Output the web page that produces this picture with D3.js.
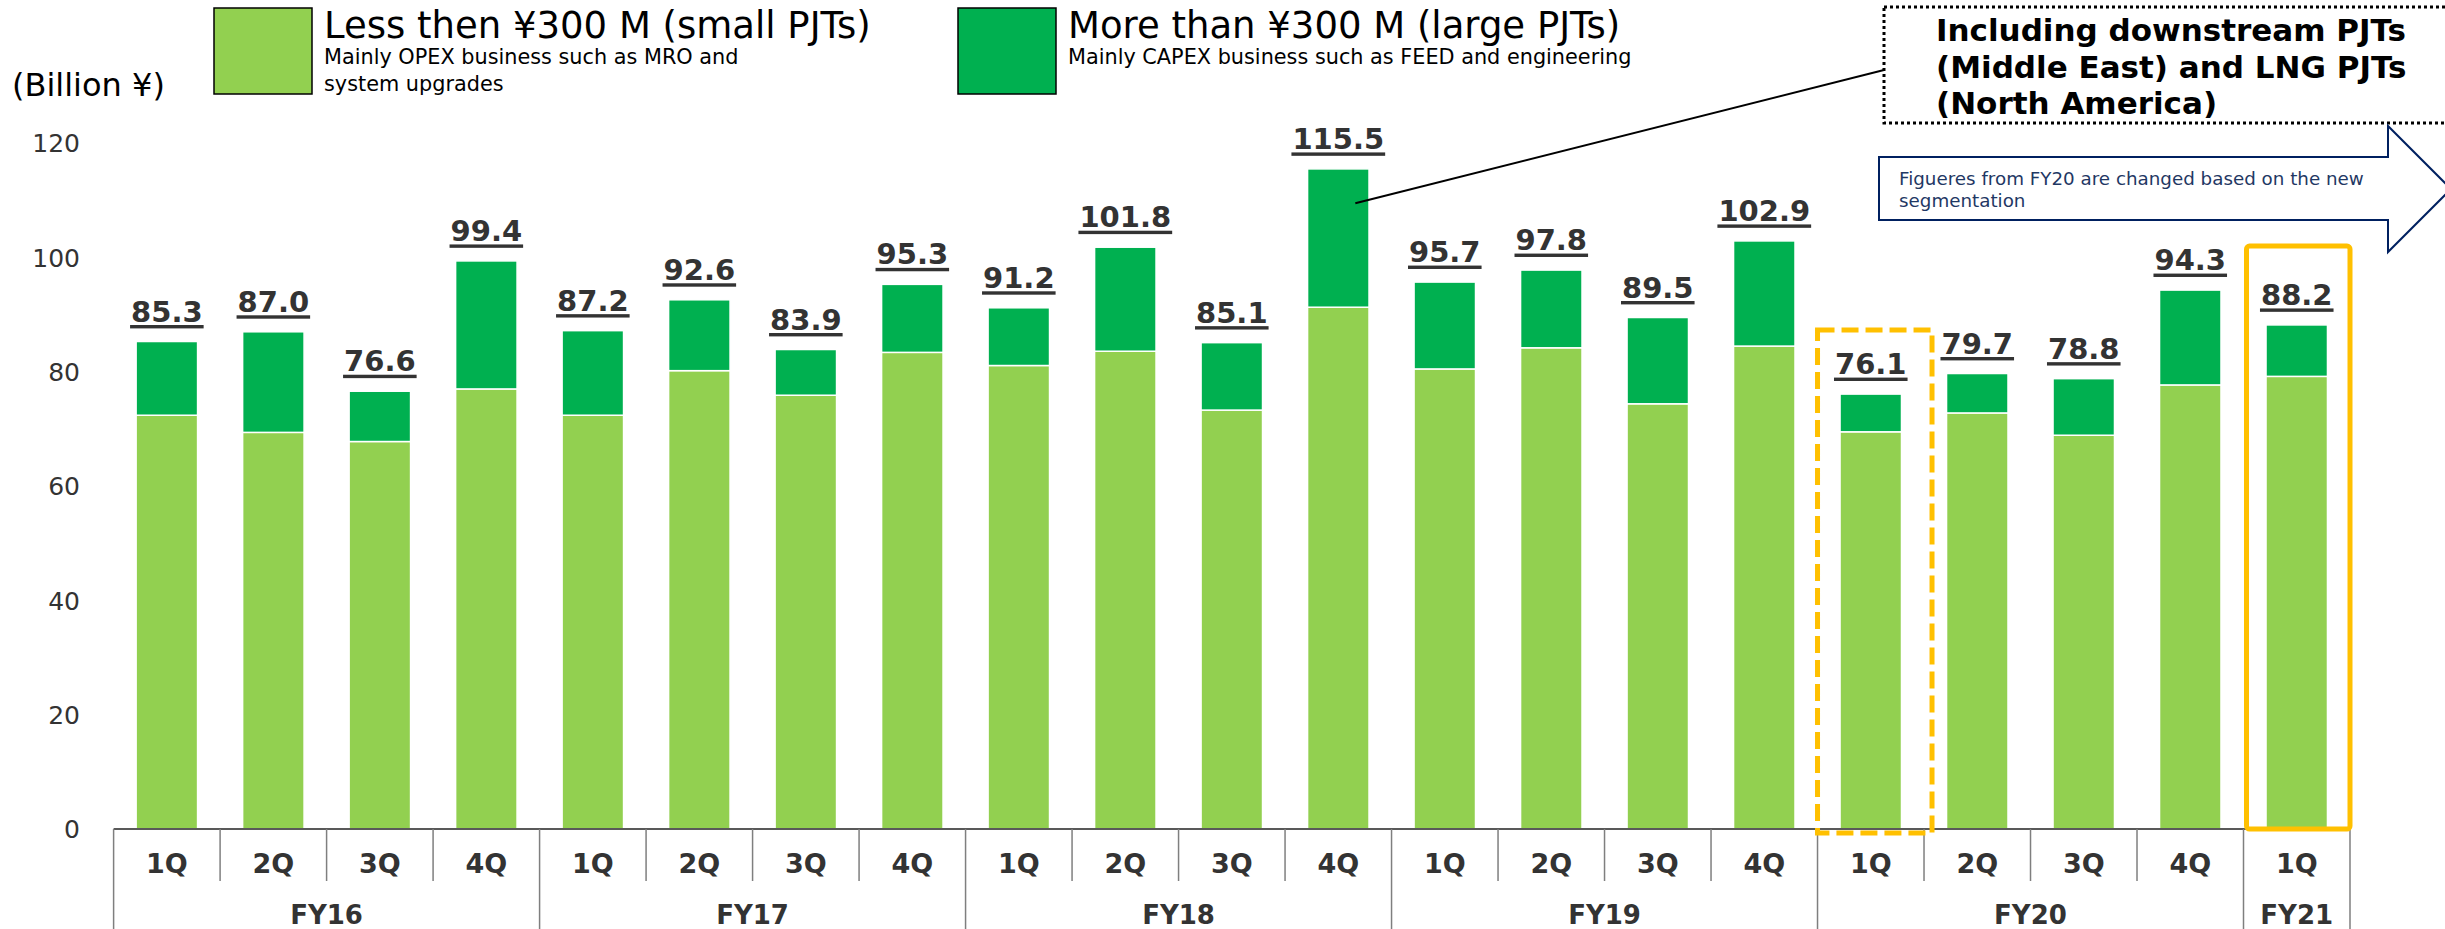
<!DOCTYPE html>
<html>
<head>
<meta charset="utf-8">
<script src="https://cdn.jsdelivr.net/npm/d3@7"></script>
<style>
  html, body { margin: 0; padding: 0; background: #fff; }
  svg { display: block; font-family: "DejaVu Sans", Verdana, sans-serif; }
</style>
</head>
<body>
<svg id="chart" width="2445" height="929"></svg>
<script>
// ---- data ----
const quarterLabels = ["1Q","2Q","3Q","4Q","1Q","2Q","3Q","4Q","1Q","2Q","3Q","4Q","1Q","2Q","3Q","4Q","1Q","2Q","3Q","4Q","1Q"];
const yearLabels = ["FY16","FY17","FY18","FY19","FY20","FY21"];
const yearSpans = [4, 4, 4, 4, 4, 1];
const smallPJTs = [72.4, 69.4, 67.8, 77.0, 72.4, 80.2, 75.9, 83.4, 81.1, 83.6, 73.3, 91.3, 80.5, 84.2, 74.4, 84.5, 69.5, 72.8, 68.9, 77.7, 79.2];
const largePJTs = [12.9, 17.6, 8.8, 22.4, 14.8, 12.4, 8.0, 11.9, 10.1, 18.2, 11.8, 24.2, 15.2, 13.6, 15.1, 18.4, 6.6, 6.9, 9.9, 16.6, 9.0];
const totalLabels = ["85.3","87.0","76.6","99.4","87.2","92.6","83.9","95.3","91.2","101.8","85.1","115.5","95.7","97.8","89.5","102.9","76.1","79.7","78.8","94.3","88.2"];
const yTicks = [0, 20, 40, 60, 80, 100, 120];
const seriesNames = ["Less then ¥300 M (small PJTs)", "More than ¥300 M (large PJTs)"];
const seriesNotes = [["Mainly OPEX business such as MRO and", "system upgrades"], ["Mainly CAPEX business such as FEED and engineering"]];
const colors = ["#92D050", "#00B050"];

const svg = d3.select("#chart");
const txt = "#333333";

// ---- scales ----
const idx = d3.range(quarterLabels.length);
const x = d3.scaleBand().domain(idx).range([113.6, 2350]).padding(0);
const barW = x.bandwidth() * 0.577;
const y = d3.scaleLinear().domain([0, 120]).range([829, 143.2]);

// ---- y axis labels ----
const yAxis = d3.axisLeft(y).tickValues(yTicks).tickSize(0).tickPadding(0);
const yg = svg.append("g").attr("transform", "translate(80,0)").call(yAxis);
yg.select(".domain").remove();
yg.selectAll("text").attr("font-size", 25).attr("fill", txt)
  .attr("font-family", "DejaVu Sans, sans-serif").attr("dy", "0.35em");

svg.append("text").attr("x", 12).attr("y", 96).attr("font-size", 32).attr("fill", "#000")
  .text("(Billion ¥)");

// ---- stacked bars ----
const rows = idx.map(i => ({i, small: smallPJTs[i], large: largePJTs[i]}));
const stack = d3.stack().keys(["small", "large"])(rows);
svg.append("g").selectAll("g").data(stack).join("g")
  .attr("fill", (d, k) => colors[k])
  .selectAll("rect").data(d => d).join("rect")
  .attr("x", d => x(d.data.i) + (x.bandwidth() - barW) / 2)
  .attr("width", barW)
  .attr("y", d => y(d[1]))
  .attr("height", d => y(d[0]) - y(d[1]))
  .attr("stroke", "#ffffff").attr("stroke-width", 1.5);

// ---- value labels with underline ----
const lg = svg.append("g");
idx.forEach(i => {
  const cx = x(i) + x.bandwidth() / 2;
  const top = y(smallPJTs[i] + largePJTs[i]);
  const t = lg.append("text").attr("x", cx).attr("y", top - 20)
    .attr("text-anchor", "middle").attr("font-size", 29).attr("font-weight", "bold")
    .attr("fill", txt).text(totalLabels[i]);
  const w = t.node().getComputedTextLength();
  lg.append("rect").attr("x", cx - w / 2 - 1).attr("y", top - 20 + 3.5)
    .attr("width", w + 2).attr("height", 3.4).attr("fill", txt);
});

// ---- x axis (two level) ----
const axisY = y(0);
const ax = svg.append("g");
ax.append("line").attr("x1", x.range()[0]).attr("x2", x.range()[1])
  .attr("y1", axisY).attr("y2", axisY).attr("stroke", "#595959").attr("stroke-width", 2);
const yearStarts = [];
let acc = 0;
yearSpans.forEach(s => { yearStarts.push(acc); acc += s; });
idx.concat([quarterLabels.length]).forEach(i => {
  const bx = i < quarterLabels.length ? x(i) : x.range()[1];
  const full = yearStarts.includes(i) || i === quarterLabels.length;
  ax.append("line").attr("x1", bx).attr("x2", bx).attr("y1", axisY)
    .attr("y2", full ? 929 : 881).attr("stroke", "#7f7f7f").attr("stroke-width", 1.5);
});
idx.forEach(i => {
  ax.append("text").attr("x", x(i) + x.bandwidth() / 2).attr("y", 873)
    .attr("text-anchor", "middle").attr("font-size", 27).attr("font-weight", "bold")
    .attr("fill", txt).text(quarterLabels[i]);
});
yearLabels.forEach((yl, k) => {
  const s = yearStarts[k], e = s + yearSpans[k];
  const x0 = x(s), x1 = e < quarterLabels.length ? x(e) : x.range()[1];
  ax.append("text").attr("x", (x0 + x1) / 2).attr("y", 924)
    .attr("text-anchor", "middle").attr("font-size", 26).attr("font-weight", "bold")
    .attr("fill", txt).text(yl);
});

// ---- highlight boxes ----
const fy20q1 = 16, fy21q1 = 20;
svg.append("rect").attr("x", x(fy20q1)).attr("y", y(87.3))
  .attr("width", x.bandwidth() + 8).attr("height", y(0) + 4 - y(87.3))
  .attr("fill", "none").attr("stroke", "#FFC000").attr("stroke-width", 5)
  .attr("stroke-dasharray", "17,7");
svg.append("rect").attr("x", x(fy21q1) + 3).attr("y", y(102))
  .attr("width", x.bandwidth() - 3).attr("height", y(0) - y(102))
  .attr("rx", 3).attr("fill", "none").attr("stroke", "#FFC000").attr("stroke-width", 5);

// ---- legend ----
const legX = [214, 958];
seriesNames.forEach((n, k) => {
  const g = svg.append("g");
  g.append("rect").attr("x", legX[k]).attr("y", 8).attr("width", 98).attr("height", 86)
    .attr("fill", colors[k]).attr("stroke", "#000").attr("stroke-width", 1.5);
  g.append("text").attr("x", legX[k] + 110).attr("y", 38).attr("font-size", 37)
    .attr("fill", "#000").text(n);
  seriesNotes[k].forEach((line, j) => {
    g.append("text").attr("x", legX[k] + 110).attr("y", 64 + j * 27).attr("font-size", 20.8)
      .attr("fill", "#000").text(line);
  });
});

// ---- callout (dotted) ----
const leaderIdx = 11;
svg.append("line")
  .attr("x1", x(leaderIdx) + x.bandwidth() / 2 + 17).attr("y1", y(109.5))
  .attr("x2", 1884).attr("y2", 70).attr("stroke", "#000").attr("stroke-width", 2);
svg.append("rect").attr("x", 1884).attr("y", 7).attr("width", 600).attr("height", 116)
  .attr("fill", "#fff").attr("stroke", "#000").attr("stroke-width", 3)
  .attr("stroke-dasharray", "3,3");
const calloutLines = ["Including downstream PJTs", "(Middle East) and LNG PJTs", "(North America)"];
calloutLines.forEach((l, j) => {
  svg.append("text").attr("x", 1936).attr("y", 41 + j * 36.5).attr("font-size", 31)
    .attr("font-weight", "bold").attr("fill", "#000").text(l);
});

// ---- arrow note ----
const arrowPts = [[1879,157],[2388,157],[2388,126],[2451,189],[2388,252],[2388,220],[1879,220]];
svg.append("path").attr("d", d3.line()(arrowPts) + "Z")
  .attr("fill", "#fff").attr("stroke", "#002060").attr("stroke-width", 2);
["Figueres from FY20 are changed based on the new", "segmentation"].forEach((l, j) => {
  svg.append("text").attr("x", 1899).attr("y", 185 + j * 22).attr("font-size", 18.3)
    .attr("fill", "#1F3864").text(l);
});
</script>
</body>
</html>
